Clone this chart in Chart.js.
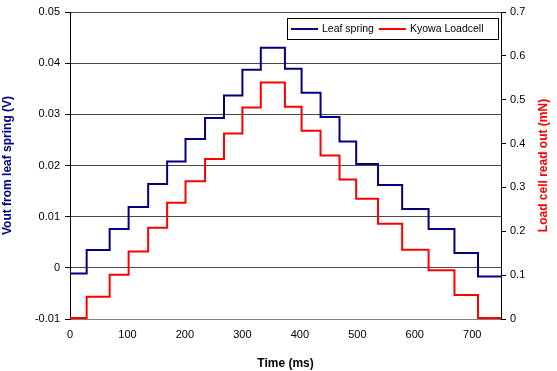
<!DOCTYPE html>
<html>
<head>
<meta charset="utf-8">
<script src="https://cdn.jsdelivr.net/npm/chart.js@4.4.1/dist/chart.umd.min.js"></script>
<style>
    html, body { margin: 0; padding: 0; background: #ffffff; }
    #chart_wrap { position: relative; width: 557px; height: 371px; }
</style>
</head>
<body>
<div id="chart_wrap"><canvas id="step_chart"></canvas></div>
<script>
// step start times (ms); last entry closes the final step
const time_edges = [0, 29, 69, 102, 136, 169, 201, 235, 268, 300, 332, 374, 403, 436, 469, 498, 536, 578, 624, 669, 710, 750];

// leaf spring output (V), left axis
const leaf_levels = [-0.0011, 0.0035, 0.0076, 0.0119, 0.0164, 0.0208, 0.0252, 0.0293, 0.0337, 0.0387, 0.0430,
    0.0389, 0.0342, 0.0295, 0.0247, 0.0203, 0.0162, 0.0115, 0.0076, 0.0029, -0.0017, -0.0017];

// load cell read out (mN), right axis
const load_levels = [0.002, 0.051, 0.101, 0.154, 0.208, 0.265, 0.314, 0.365, 0.423, 0.482, 0.539,
    0.484, 0.429, 0.373, 0.318, 0.274, 0.217, 0.158, 0.111, 0.055, 0.002, 0.002];

const x_ticks = [0, 100, 200, 300, 400, 500, 600, 700];
const left_ticks = [-0.01, 0, 0.01, 0.02, 0.03, 0.04, 0.05];
const left_tick_labels = ['-0.01', '0', '0.01', '0.02', '0.03', '0.04', '0.05'];
const right_ticks = [0, 0.1, 0.2, 0.3, 0.4, 0.5, 0.6, 0.7];
const right_tick_labels = ['0', '0.1', '0.2', '0.3', '0.4', '0.5', '0.6', '0.7'];

const series_names = ['Leaf spring', 'Kyowa Loadcell'];

const palette = {
    leaf: '#000080',
    load: '#ff0000',
    grid: '#4a4a4a',
    axis: '#000000',
    text: '#000000',
};

const font_family = '"Liberation Sans", Arial, sans-serif';

function to_points(levels) {
    return time_edges.map(function (t, idx) {
        return { x: t, y: levels[idx] };
    });
}

function fixed_ticks(values) {
    return function (scale) {
        scale.ticks = values.map(function (v) { return { value: v }; });
    };
}

function label_from(values, labels) {
    return function (value) {
        const idx = values.findIndex(function (v) { return Math.abs(v - value) < 1e-9; });
        return idx >= 0 ? labels[idx] : '';
    };
}

// legend box sits inside the plot, top right
const inner_legend = {
    id: 'inner_legend',
    afterDraw: function (chart) {
        const ctx = chart.ctx;
        const area = chart.chartArea;
        const box_w = 211;
        const box_h = 21;
        const box_x = area.right - 3 - box_w;
        const box_y = area.top + 6;

        ctx.save();
        ctx.fillStyle = '#ffffff';
        ctx.fillRect(box_x, box_y, box_w, box_h);
        ctx.strokeStyle = '#000000';
        ctx.lineWidth = 1;
        ctx.strokeRect(box_x + 0.5, box_y + 0.5, box_w, box_h);

        ctx.font = '10.5px ' + font_family;
        ctx.textBaseline = 'middle';
        ctx.textAlign = 'left';

        let cursor = box_x + 4;
        const mid_y = box_y + box_h / 2 + 0.5;
        chart.data.datasets.forEach(function (ds) {
            ctx.strokeStyle = ds.borderColor;
            ctx.lineWidth = 2;
            ctx.beginPath();
            ctx.moveTo(cursor, mid_y);
            ctx.lineTo(cursor + 27, mid_y);
            ctx.stroke();
            ctx.fillStyle = palette.text;
            ctx.fillText(ds.label, cursor + 31, mid_y);
            cursor += 31 + ctx.measureText(ds.label).width + 5;
        });
        ctx.restore();
    },
};

// right axis title reads bottom to top like the left one
const right_title = {
    id: 'right_title',
    afterDraw: function (chart) {
        const ctx = chart.ctx;
        const area = chart.chartArea;
        ctx.save();
        ctx.translate(544, (area.top + area.bottom) / 2);
        ctx.rotate(-Math.PI / 2);
        ctx.font = 'bold 12px ' + font_family;
        ctx.fillStyle = palette.load;
        ctx.textAlign = 'center';
        ctx.textBaseline = 'middle';
        ctx.fillText('Load cell read out (mN)', 0, 0);
        ctx.restore();
    },
};

const chart_config = {
    type: 'line',
    data: {
        datasets: [
            {
                label: series_names[0],
                data: to_points(leaf_levels),
                yAxisID: 'y',
                borderColor: palette.leaf,
                borderWidth: 2,
                pointRadius: 0,
                stepped: 'before',
                fill: false,
            },
            {
                label: series_names[1],
                data: to_points(load_levels),
                yAxisID: 'y2',
                borderColor: palette.load,
                borderWidth: 2,
                pointRadius: 0,
                stepped: 'before',
                fill: false,
            },
        ],
    },
    options: {
        responsive: true,
        maintainAspectRatio: false,
        animation: false,
        layout: { padding: { top: 12, left: 0, right: 0, bottom: 0 } },
        plugins: {
            legend: { display: false },
            tooltip: { enabled: false },
        },
        scales: {
            x: {
                type: 'linear',
                min: 0,
                max: 750,
                afterBuildTicks: fixed_ticks(x_ticks),
                afterFit: function (scale) { scale.height = 52; },
                ticks: {
                    color: palette.text,
                    font: { family: font_family, size: 11 },
                    padding: 9,
                    maxRotation: 0,
                },
                grid: { display: true, drawOnChartArea: false, drawTicks: false },
                border: { color: '#808080', width: 1 },
                title: {
                    display: true,
                    text: 'Time (ms)',
                    color: palette.text,
                    font: { family: font_family, size: 12, weight: 'bold' },
                    padding: { top: 2, bottom: 0 },
                },
            },
            y: {
                type: 'linear',
                position: 'left',
                min: -0.01,
                max: 0.05,
                afterBuildTicks: fixed_ticks(left_ticks),
                afterFit: function (scale) { scale.width = 70; },
                ticks: {
                    color: palette.text,
                    font: { family: font_family, size: 11 },
                    padding: 5,
                    callback: label_from(left_ticks, left_tick_labels),
                },
                grid: {
                    color: palette.grid,
                    lineWidth: 1,
                    tickLength: 5,
                    tickColor: palette.axis,
                },
                border: { color: palette.axis, width: 1 },
                title: {
                    display: true,
                    text: 'Vout from leaf spring (V)',
                    color: palette.leaf,
                    font: { family: font_family, size: 12, weight: 'bold' },
                    padding: { top: 0, bottom: 0 },
                },
            },
            y2: {
                type: 'linear',
                position: 'right',
                min: 0,
                max: 0.7,
                afterBuildTicks: fixed_ticks(right_ticks),
                afterFit: function (scale) { scale.width = 56; },
                ticks: {
                    color: palette.text,
                    font: { family: font_family, size: 11 },
                    padding: 4,
                    callback: label_from(right_ticks, right_tick_labels),
                },
                grid: {
                    drawOnChartArea: false,
                    tickLength: 5,
                    tickColor: palette.axis,
                },
                border: { color: palette.axis, width: 1 },
            },
        },
    },
    plugins: [inner_legend, right_title],
};

new Chart(document.getElementById('step_chart').getContext('2d'), chart_config);
</script>
</body>
</html>
